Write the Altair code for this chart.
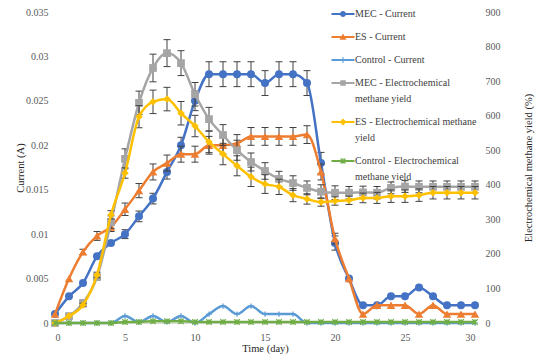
import altair as alt
import pandas as pd

# ---------------- data ----------------
days = list(range(31))

mec_current = [0.001, 0.003, 0.0045, 0.0075, 0.009, 0.01, 0.012, 0.014, 0.017, 0.02, 0.025,
               0.028, 0.028, 0.028, 0.028, 0.027, 0.028, 0.028, 0.027, 0.018, 0.009,
               0.005, 0.002, 0.002, 0.003, 0.003, 0.004, 0.003, 0.002, 0.002, 0.002]
mec_current_err = [0, 0, 0, 0, 0, 0.0005, 0.0006, 0.0006, 0.0008, 0.0009, 0.0011,
                   0.0014, 0.0014, 0.0014, 0.0014, 0.0014, 0.0014, 0.0014, 0.0014, 0.0012, 0.0008,
                   0, 0, 0, 0, 0, 0, 0, 0, 0, 0]

es_current = [0.001, 0.005, 0.008, 0.0098, 0.0108, 0.0128, 0.0149, 0.017, 0.018, 0.019, 0.019,
              0.02, 0.02, 0.0202, 0.021, 0.021, 0.021, 0.021, 0.0212, 0.017, 0.0095,
              0.005, 0.001, 0.002, 0.002, 0.002, 0.001, 0.002, 0.001, 0.001, 0.001]
es_current_err = [0, 0, 0.0003, 0.0005, 0.0005, 0.0007, 0.0008, 0.0009, 0.0009, 0.0009, 0.0009,
                  0.001, 0.001, 0.001, 0.001, 0.001, 0.001, 0.001, 0.001, 0.0009, 0.0006,
                  0, 0, 0, 0, 0, 0, 0, 0, 0, 0]

ctrl_current = [0, 0, 0, 0, 0, 0.0008, 0.0001, 0.0008, 0.0001, 0.0008, 0,
                0.001, 0.0019, 0.001, 0.0019, 0.001, 0.001, 0.001, 0, 0, 0,
                0, 0, 0, 0, 0, 0, 0, 0, 0, 0]

mec_yield = [0, 20, 58, 133, 292, 475, 637, 738, 781, 752, 662,
             590, 544, 500, 466, 440, 417, 405, 391, 380, 377,
             377, 378, 377, 391, 395, 394, 394, 394, 394, 394]
mec_yield_err = [0, 0, 5, 8, 18, 29, 34, 40, 39, 36, 34,
                 34, 30, 29, 26, 24, 22, 21, 20, 20, 20,
                 18, 18, 18, 17, 17, 17, 17, 17, 17, 17]

es_yield = [0, 20, 52, 139, 313, 434, 597, 640, 648, 607, 570,
            524, 489, 455, 423, 402, 394, 370, 359, 350, 353,
            355, 362, 362, 367, 367, 370, 377, 377, 377, 377]
es_yield_err = [0, 0, 5, 8, 12, 15, 32, 34, 34, 34, 31,
                31, 31, 29, 28, 27, 22, 19, 15, 12, 12,
                12, 14, 16, 18, 18, 18, 18, 18, 18, 18]

ctrl_yield = [0, 0, 0, 0, 0, 3, 3, 5, 5, 5, 3,
              3, 3, 3, 3, 3, 3, 3, 3, 3, 3,
              3, 3, 3, 3, 3, 3, 3, 3, 3, 3]

names = ["MEC - Current", "ES - Current", "Control - Current",
         "MEC - Electrochemical methane yield", "ES - Electrochemical methane yield",
         "Control - Electrochemical methane yield"]
colors = ["#4472C4", "#ED7D31", "#5B9BD5", "#A5A5A5", "#FFC000", "#70AD47"]

x_ticks = [0, 5, 10, 15, 20, 25, 30]
cur_ticks = [0, 0.005, 0.01, 0.015, 0.02, 0.025, 0.03, 0.035]
yield_ticks = [0, 100, 200, 300, 400, 500, 600, 700, 800, 900]

# ---------------- style ----------------
FONT = "Liberation Serif"
W, H = 420, 311
ERR = "#404040"

LINE = "M-2.3,-0.2H2.3V0.2H-2.3Z"
leg_paths = [
    LINE + "M0.6,0A0.6,0.6 0 1,1 -0.6,0A0.6,0.6 0 1,1 0.6,0Z",
    LINE + "M0,-0.7L0.7,0.55L-0.7,0.55Z",
    LINE + "M-0.1,-0.6H0.1V0.6H-0.1Z",
    LINE + "M-0.55,-0.55H0.55V0.55H-0.55Z",
    LINE + "M0,-0.7L0.7,0L0,0.7L-0.7,0Z",
    LINE + "M-0.08,-0.6H0.08V0.6H-0.08Z"
         + "M-0.42,-0.58L0.58,0.42L0.42,0.58L-0.58,-0.42Z"
         + "M0.58,-0.42L-0.42,0.58L-0.58,0.42L0.42,-0.58Z",
]
PLUS = "M-1,0H1M0,-1V1"
STAR = "M-1,-1L1,1M-1,1L1,-1M0,-1V1"
CAP = "M-1,0H1"

x_scale = alt.Scale(domain=[0, 30], nice=False)
x_axis = alt.Axis(values=x_ticks, title="Time (day)", domain=True, domainColor="#D9D9D9",
                  ticks=False, tickSize=0, labelPadding=9, grid=False,
                  titleY=25, titleBaseline="middle")

cur_scale = alt.Scale(domain=[0, 0.035], nice=False)
cur_axis = alt.Axis(values=cur_ticks, format=".3~f", title="Current (A)", domain=False,
                    ticks=False, tickSize=0, labelPadding=7, grid=False,
                    titleX=-35, titleY=H / 2, titleAngle=270, titleAlign="center",
                    titleBaseline="middle")

yld_scale = alt.Scale(domain=[0, 900], nice=False)
yld_axis = alt.Axis(values=yield_ticks, orient="right", title="Electrochemical methane yield (%)",
                    domain=False, ticks=False, tickSize=0, labelPadding=10, grid=False,
                    titleX=53, titleY=H / 2, titleAngle=270, titleAlign="center",
                    titleBaseline="middle")


def X():
    return alt.X("day:Q", scale=x_scale, axis=x_axis)


def series_layers(vals, errs, color, marker, filled, size, yscale, yaxis, sw=1.0):
    def Y(field):
        return alt.Y(field, type="quantitative", scale=yscale, axis=yaxis)

    layers = []
    if errs is not None:
        edf = pd.DataFrame({"day": days,
                            "lo": [v - e for v, e in zip(vals, errs)],
                            "hi": [v + e for v, e in zip(vals, errs)],
                            "err": errs})
        edf = edf[edf["err"] > 0]
        eb = alt.Chart(edf)
        layers.append(eb.mark_rule(color=ERR, strokeWidth=1).encode(
            x=X(), y=Y("lo"), y2=alt.Y2("hi:Q")))
        layers.append(eb.mark_point(shape=CAP, size=49, color=ERR, strokeWidth=1,
                                    filled=False, opacity=1).encode(x=X(), y=Y("hi")))
        layers.append(eb.mark_point(shape=CAP, size=49, color=ERR, strokeWidth=1,
                                    filled=False, opacity=1).encode(x=X(), y=Y("lo")))
    df = pd.DataFrame({"day": days, "value": vals})
    base = alt.Chart(df)
    layers.append(base.mark_line(color=color, strokeWidth=2.5, interpolate="monotone").encode(
        x=X(), y=Y("value")))
    layers.append(base.mark_point(shape=marker, filled=filled, size=size, color=color,
                                  opacity=1, strokeWidth=sw).encode(x=X(), y=Y("value")))
    return layers


legend = alt.Legend(
    orient="none", legendX=283, legendY=-3, title=None, direction="vertical",
    symbolSize=100, symbolStrokeWidth=0, labelFont=FONT, labelFontSize=10,
    labelColor="#404040", labelOffset=7, rowPadding=13, padding=0, labelLimit=220,
    labelExpr=("datum.label == 'ES - Electrochemical methane yield' ? "
               "['ES - Electrochemical methane', 'yield'] : "
               "indexof(datum.label, 'methane yield') > 0 ? "
               "[replace(datum.label, ' methane yield', ''), 'methane yield'] : datum.label"),
)

leg_df = pd.DataFrame({"series": names, "day": [-50] * 6, "value": [0.01] * 6})
legend_layer = alt.Chart(leg_df).mark_point(filled=True, opacity=1, clip=True, size=100).encode(
    x=X(),
    y=alt.Y("value:Q", scale=cur_scale, axis=cur_axis),
    color=alt.Color("series:N", scale=alt.Scale(domain=names, range=colors), legend=legend),
    shape=alt.Shape("series:N", scale=alt.Scale(domain=names, range=leg_paths), legend=legend),
)

cur_layers = []
cur_layers += series_layers(mec_current, mec_current_err, colors[0], "circle", True, 64,
                            cur_scale, cur_axis)
cur_layers += series_layers(es_current, es_current_err, colors[1], "triangle-up", True, 72,
                            cur_scale, cur_axis)
cur_layers += series_layers(ctrl_current, None, colors[2], PLUS, False, 30,
                            cur_scale, cur_axis, sw=1.2)
cur_layers.append(legend_layer)

yld_layers = []
yld_layers += series_layers(mec_yield, mec_yield_err, colors[3], "square", True, 60,
                            yld_scale, yld_axis)
yld_layers += series_layers(es_yield, es_yield_err, colors[4], "diamond", True, 56,
                            yld_scale, yld_axis)
yld_layers += series_layers(ctrl_yield, None, colors[5], STAR, False, 30,
                            yld_scale, yld_axis, sw=1.2)

chart = alt.layer(alt.layer(*cur_layers), alt.layer(*yld_layers)).resolve_scale(
    y="independent"
).properties(
    width=W, height=H,
    autosize=alt.AutoSizeParams(type="none"),
    padding={"left": 47, "top": 4, "right": 67, "bottom": 31},
    background="white",
).configure(
    style={
        "guide-label": {"font": FONT, "lineHeight": 16},
        "guide-title": {"font": FONT, "fontWeight": "normal"},
    }
).configure_view(stroke=None).configure_axis(
    labelFont=FONT, labelFontSize=10, labelColor="#595959",
    titleFont=FONT, titleFontSize=10.5, titleColor="#262626", titleFontWeight="normal",
).configure_legend(
    labelFont=FONT, labelFontSize=10, labelColor="#404040",
)

chart.save("out.html", embed_options={"renderer": "svg", "actions": False})
